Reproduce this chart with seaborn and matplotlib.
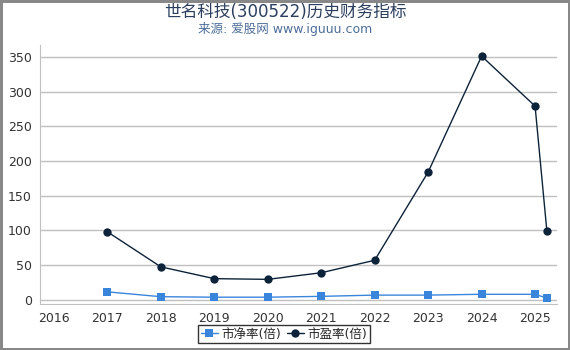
import matplotlib
matplotlib.use("Agg")
import matplotlib.pyplot as plt
import seaborn as sns
import pandas as pd

years = [2017, 2018, 2019, 2020, 2021, 2022, 2023, 2024, 2025, 2025.22]
pb = [11.5, 4.5, 3.8, 3.8, 5.0, 6.8, 6.8, 8.0, 8.0, 2.5]
pe = [98, 47.5, 30.5, 29.5, 39, 57, 184, 351, 279, 99.5]
xticks = [2016, 2017, 2018, 2019, 2020, 2021, 2022, 2023, 2024, 2025]
yticks = [0, 50, 100, 150, 200, 250, 300, 350]
title = "世名科技(300522)历史财务指标"
subtitle = "来源: 爱股网 www.iguuu.com"
labels = ["市净率(倍)", "市盈率(倍)"]

sns.set_style("white")
plt.rcParams['font.family'] = ['DejaVu Sans', 'Noto Sans CJK SC']

df = pd.DataFrame({"year": years, "pb": pb, "pe": pe})

fig = plt.figure(figsize=(5.7, 3.5), dpi=100)
fig.patch.set_edgecolor("#888888")
fig.patch.set_linewidth(2.5)
ax = fig.add_axes([40/570, 1-304/350, 517/570, 259/350])

sns.lineplot(data=df, x="year", y="pb", ax=ax, color="#3a85dc", marker="s",
             markersize=6, markeredgewidth=0, linewidth=1, label=labels[0])
sns.lineplot(data=df, x="year", y="pe", ax=ax, color="#0d233a", marker="o",
             markersize=6, markeredgewidth=0, linewidth=1, label=labels[1])

ax.set_xlim(2015.74, 2025.41)
ax.set_ylim(-6, 367)
ax.set_xticks(xticks)
ax.set_xticklabels([str(x) for x in xticks], fontsize=9, color="#333333")
ax.set_yticks(yticks)
ax.set_yticklabels([str(y) for y in yticks], fontsize=9, color="#333333")
ax.yaxis.grid(True, color="#c0c0c0", linewidth=1)
ax.set_xlabel("")
ax.set_ylabel("")
for s in ["top", "right"]:
    ax.spines[s].set_visible(False)
ax.spines["left"].set_color("#c0c0c0")
ax.spines["bottom"].set_color("#c0c0c0")
ax.tick_params(axis="x", length=4, color="#c0c0c0", pad=2)
ax.tick_params(axis="y", length=4, color="#c0c0c0", pad=2)

leg = ax.legend(loc="upper center", bbox_to_anchor=(284/570, 1 - 325/350), bbox_transform=fig.transFigure,
                ncol=2, fontsize=9, frameon=True, fancybox=False, handlelength=1.4,
                columnspacing=0.4, handletextpad=0.3, borderpad=0.2, borderaxespad=0)
leg.get_frame().set_edgecolor("#000000")
leg.get_frame().set_linewidth(1)

fig.text(0.5, 1 - 12/350, title, ha="center", va="center", fontsize=12, color="#2a3f5f")
fig.text(0.5, 1 - 29/350, subtitle, ha="center", va="center", fontsize=9, color="#4d6e9a")

fig.savefig("out.png", dpi=100)
